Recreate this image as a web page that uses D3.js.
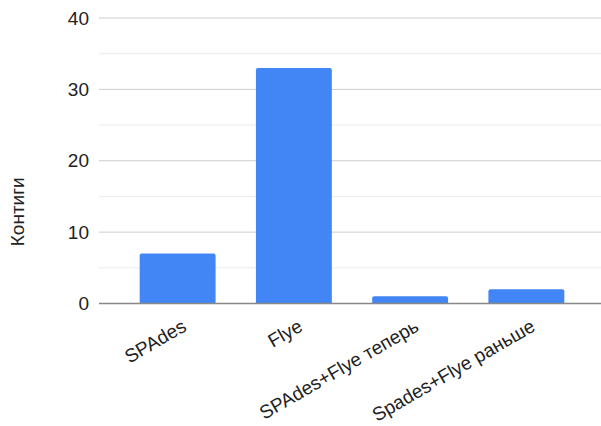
<!DOCTYPE html>
<html>
<head>
<meta charset="utf-8">
<script src="https://cdn.jsdelivr.net/npm/d3@7"></script>
<style>
  html, body { margin: 0; padding: 0; background: #fff; }
  svg { display: block; font-family: "Liberation Sans", Arial, sans-serif; }
</style>
</head>
<body>
<svg id="chart" width="601" height="426"></svg>
<script>
// Contig counts per assembler
const categories = ["SPAdes", "Flye", "SPAdes+Flye теперь", "Spades+Flye раньше"];
const contigs = [7, 33, 1, 2];
const yTicks = [0, 10, 20, 30, 40];
const yMinorTicks = [5, 15, 25, 35];
const yTitle = "Контиги";

const svg = d3.select("#chart");
const plotLeft = 99, plotRight = 601, plotTop = 18, plotBottom = 303.5;
const fontSize = 19;

const x = d3.scaleBand()
  .domain(categories)
  .range([plotLeft, 605])
  .paddingInner(0.347)
  .paddingOuter(0.35);

const y = d3.scaleLinear().domain([0, 40]).range([plotBottom, plotTop]);

// minor gridlines
svg.append("g").selectAll("line").data(yMinorTicks).join("line")
  .attr("x1", plotLeft).attr("x2", plotRight)
  .attr("y1", d => y(d)).attr("y2", d => y(d))
  .attr("stroke", "#ebebeb").attr("stroke-width", 1);

// major gridlines
svg.append("g").selectAll("line").data(yTicks.filter(d => d !== 0)).join("line")
  .attr("x1", plotLeft).attr("x2", plotRight)
  .attr("y1", d => y(d)).attr("y2", d => y(d))
  .attr("stroke", "#cccccc").attr("stroke-width", 1);

// y tick labels
svg.append("g").selectAll("text").data(yTicks).join("text")
  .attr("x", 89).attr("y", d => y(d))
  .attr("dy", "0.35em")
  .attr("text-anchor", "end")
  .attr("font-size", fontSize)
  .attr("fill", "#222")
  .text(d => d);

// y axis title
svg.append("text")
  .attr("transform", `translate(24, ${(plotTop + plotBottom) / 2 + 51}) rotate(-90)`)
  .attr("text-anchor", "middle")
  .attr("font-size", fontSize)
  .attr("fill", "#222")
  .text(yTitle);

// bars with slightly rounded tops
const r = 2;
svg.append("g").selectAll("path").data(categories).join("path")
  .attr("fill", "#4285f4")
  .attr("d", (c, i) => {
    const x0 = x(c), w = x.bandwidth(), yt = y(contigs[i]), yb = y(0);
    return `M${x0},${yb} V${yt + r} Q${x0},${yt} ${x0 + r},${yt} H${x0 + w - r} Q${x0 + w},${yt} ${x0 + w},${yt + r} V${yb} Z`;
  });

// baseline
svg.append("line")
  .attr("x1", plotLeft).attr("x2", plotRight)
  .attr("y1", y(0)).attr("y2", y(0))
  .attr("stroke", "#888").attr("stroke-width", 1.3);

// rotated category labels
svg.append("g").selectAll("text").data(categories).join("text")
  .attr("transform", c => `translate(${x(c) + x.bandwidth() / 2 + 10}, 330) rotate(-30)`)
  .attr("text-anchor", "end")
  .attr("font-size", fontSize)
  .attr("fill", "#222")
  .text(c => c);
</script>
</body>
</html>
